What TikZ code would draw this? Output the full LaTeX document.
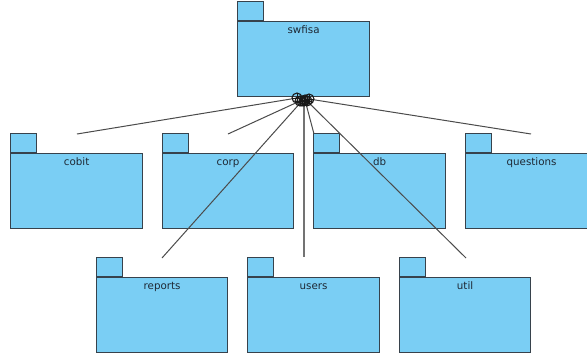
\documentclass[tikz,border=0pt]{standalone}
\usepackage{fontspec}
\setmainfont{DejaVu Sans}
\definecolor{pkgblue}{RGB}{122,206,244}
\definecolor{pkgline}{RGB}{55,66,76}
\definecolor{txtcol}{RGB}{30,40,52}
\definecolor{conn}{RGB}{75,75,75}
\tikzset{
  pkgbody/.style={draw=pkgline, fill=pkgblue, line width=1.2pt, minimum width=132pt, minimum height=75pt, anchor=north west, inner sep=0pt},
  pkgtab/.style={draw=pkgline, fill=pkgblue, line width=1.2pt, minimum width=26pt, minimum height=19pt, anchor=south west, inner sep=0pt},
  pkglabel/.style={text=txtcol, font=\fontsize{10.3}{12}\selectfont, anchor=base, inner sep=0pt},
  nest/.style={circle, draw=black!90, line width=1.1pt, minimum size=10pt, inner sep=0pt,
    path picture={\draw[black!90, line width=1pt] (path picture bounding box.north) -- (path picture bounding box.south) (path picture bounding box.west) -- (path picture bounding box.east);}},
  connector/.style={draw=conn, line width=1pt},
}
\begin{document}
\begin{tikzpicture}[x=1pt, y=-1pt]
\useasboundingbox (0,0) rectangle (587,354);
\clip (0,0) rectangle (587,354);
\fill[white] (0,0) rectangle (587,354);
% packages
\node[pkgbody, minimum width=132pt] (swfisa) at (237,21) {};
\node[pkgtab] (swfisatab) at (swfisa.north west) {};
\node[pkglabel] at ([yshift=-12pt]swfisa.north) {swfisa};

\node[pkgbody] (cobit) at (10,153) {};
\node[pkgtab] (cobittab) at (cobit.north west) {};
\node[pkglabel] at ([yshift=-12pt]cobit.north) {cobit};

\node[pkgbody, minimum width=131pt] (corp) at (162,153) {};
\node[pkgtab] (corptab) at (corp.north west) {};
\node[pkglabel] at ([yshift=-12pt]corp.north) {corp};

\node[pkgbody] (db) at (313,153) {};
\node[pkgtab] (dbtab) at (db.north west) {};
\node[pkglabel] at ([yshift=-12pt]db.north) {db};

\node[pkgbody] (questions) at (465,153) {};
\node[pkgtab] (questionstab) at (questions.north west) {};
\node[pkglabel] at ([yshift=-12pt]questions.north) {questions};

\node[pkgbody, minimum width=131pt] (reports) at (96,277) {};
\node[pkgtab] (reportstab) at (reports.north west) {};
\node[pkglabel] at ([yshift=-12pt]reports.north) {reports};

\node[pkgbody] (users) at (247,277) {};
\node[pkgtab] (userstab) at (users.north west) {};
\node[pkglabel] at ([yshift=-12pt]users.north) {users};

\node[pkgbody, minimum width=131pt] (util) at (399,277) {};
\node[pkgtab] (utiltab) at (util.north west) {};
\node[pkglabel] at ([yshift=-12pt]util.north) {util};

% connector end points
\coordinate (ecobit) at (77,134);
\coordinate (ecorp) at (228,134);
\coordinate (edb) at (314,134);
\coordinate (equestions) at (531,134);
\coordinate (ereports) at (162,258);
\coordinate (eusers) at (304,257);
\coordinate (eutil) at (466,258);

% connectors
\draw[connector] (297,98) -- (ecobit);
\draw[connector] (300,101) -- (ecorp);
\draw[connector] (302,101) -- (ereports);
\draw[connector, draw=black!55, line width=1.3pt] (304,101) -- (eusers);
\draw[connector] (305,100) -- (edb);
\draw[connector] (307,101) -- (eutil);
\draw[connector] (309,99) -- (equestions);

% nesting circles
\node[nest] (kcobit) at (297,98) {};
\node[nest] (kcorp) at (300,101) {};
\node[nest] (kreports) at (302,101) {};
\node[nest] (kusers) at (304,101) {};
\node[nest] (kdb) at (305,100) {};
\node[nest] (kutil) at (307,101) {};
\node[nest] (kquestions) at (309,99) {};
\end{tikzpicture}
\end{document}
